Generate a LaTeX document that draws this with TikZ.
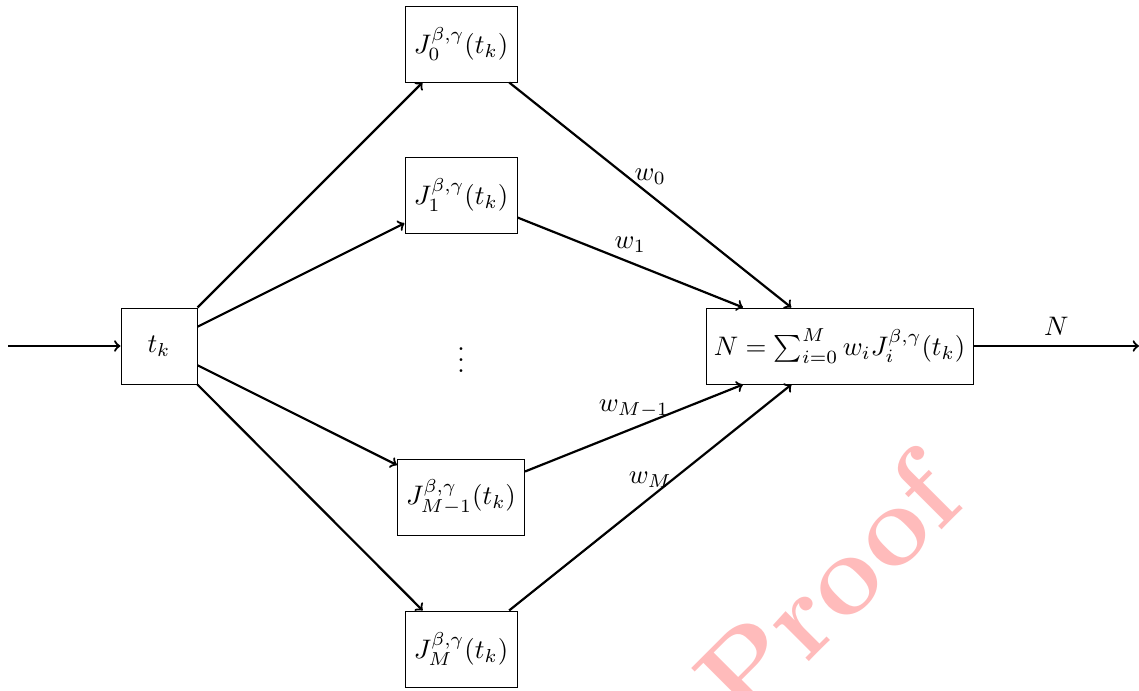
\documentclass[tikz,border=0pt]{standalone}
\usepackage{amsmath}
\definecolor{proofred}{RGB}{255,187,187}
\begin{document}
\begin{tikzpicture}[x=0.5pt,y=-0.5pt,
  every node/.style={scale=1.34},
  box/.style={draw,line width=0.4pt,minimum height=28.36pt,inner sep=2.2pt},
  conn/.style={->,line width=1.1pt},
  wlab/.style={midway,above}]
\useasboundingbox (0,0) rectangle (1139,690);
\node[box,minimum width=28.36pt] (tk) at (159,346) {$t_k$};
\node[box,minimum width=41.8pt] (J0) at (461,44) {$J_0^{\beta,\gamma}(t_k)$};
\node[box,minimum width=41.8pt] (J1) at (461,195) {$J_1^{\beta,\gamma}(t_k)$};
\node (dots) at (461,352) {$\vdots$};
\node[box,minimum width=47.4pt] (JM1) at (461,497) {$J_{M-1}^{\beta,\gamma}(t_k)$};
\node[box,minimum width=41.8pt] (JM) at (461,649) {$J_M^{\beta,\gamma}(t_k)$};
\node[box,minimum width=99.6pt] (N) at (839.5,346) {$N=\sum_{i=0}^{M} w_i J_i^{\beta,\gamma}(t_k)$};
\coordinate (in) at (8,346);
\coordinate (out) at (1139,346);
\draw[conn] (in) -- (tk);
\draw[conn] (tk) -- (J0);
\draw[conn] (tk) -- (J1);
\draw[conn] (tk) -- (JM1);
\draw[conn] (tk) -- (JM);
\draw[conn] (J0) -- node[wlab] {$w_0$} (N);
\draw[conn] (J1) -- node[wlab] {$w_1$} (N);
\draw[conn] (JM1) -- node[wlab] {$w_{M-1}$} (N);
\draw[conn] (JM) -- node[wlab] {$w_M$} (N);
\draw[conn] (N) -- node[wlab] {$N$} (out);
\node[rotate=45, text=proofred, font=\bfseries\fontsize{43}{43}\selectfont] (wm) at (827,588) {Proof};
\end{tikzpicture}
\end{document}
